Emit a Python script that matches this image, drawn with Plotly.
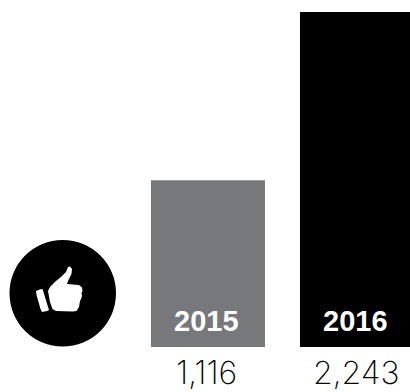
import plotly.graph_objects as go

W, H = 410, 392

years = ["2015", "2016"]
totals = [1116, 2243]
total_labels = ["1,116", "2,243"]
bar_colors = ["#77787b", "#000000"]

# Thumbs-up glyph outline, in page pixels
cuff = [(36, 291), (39.5, 289.5), (42.5, 289), (49, 310), (47, 311), (42, 312), (40.5, 309), (36.5, 295)]
hand = [(48, 291), (50, 287), (56, 281), (61, 277), (66, 272), (68, 267), (70, 266.5), (72, 269), (71.5, 274),
        (68, 281), (67, 284), (79, 285), (82, 287.5), (82.5, 291), (81.5, 293), (82, 296), (81, 299), (80, 301),
        (79, 307), (76.5, 311), (73, 311.5), (56, 311), (52.5, 309), (50, 302)]


def px_path(points):
    """SVG path in paper coordinates from a list of page-pixel points."""
    coords = [f"{x / W:.5f},{1 - y / H:.5f}" for x, y in points]
    return "M" + " L".join(coords) + " Z"


fig = go.Figure(
    go.Bar(
        x=[0, 1],
        y=totals,
        width=0.765,
        marker=dict(color=bar_colors, line=dict(width=0)),
        cliponaxis=False,
        hoverinfo="skip",
    )
)

fig.update_layout(
    width=W,
    height=H,
    margin=dict(l=0, r=0, t=0, b=0),
    paper_bgcolor="#ffffff",
    plot_bgcolor="#ffffff",
    showlegend=False,
    xaxis=dict(range=[-1.396, 1.356], visible=False),
    yaxis=dict(range=[-301, 2323], visible=False),
    shapes=[
        dict(type="circle", xref="paper", yref="paper", x0=9.5 / W, x1=116 / W, y0=1 - 346.5 / H, y1=1 - 240 / H,
             fillcolor="#000000", line=dict(width=0)),
        dict(type="path", xref="paper", yref="paper", path=px_path(cuff), fillcolor="#ffffff", line=dict(width=0)),
        dict(type="path", xref="paper", yref="paper", path=px_path(hand), fillcolor="#ffffff", line=dict(width=0)),
    ],
)

for i, (year, label) in enumerate(zip(years, total_labels)):
    # Year inside the foot of the bar
    fig.add_annotation(
        x=i, y=0, yshift=8, xshift=-1, text=year, showarrow=False, yanchor="bottom", xanchor="center",
        font=dict(family="Liberation Sans", size=29, color="#ffffff", weight="bold"),
    )
    # Total under the baseline
    fig.add_annotation(
        x=i, y=0, yshift=-4, xshift=-1, text=label, showarrow=False, yanchor="top", xanchor="center",
        font=dict(family="Inter", size=32, color="#000000", weight=200),
    )

fig.write_html("out.html", config=dict(displayModeBar=False))
